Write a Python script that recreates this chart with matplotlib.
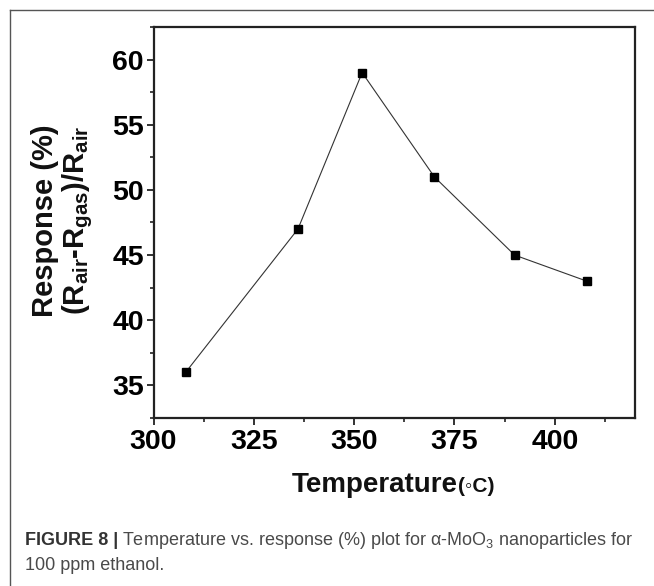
import matplotlib
matplotlib.use("Agg")
import matplotlib.pyplot as plt
from matplotlib.lines import Line2D
from matplotlib.ticker import MultipleLocator

# ---- data ----
temperature = [308, 336, 352, 370, 390, 408]
response = [36, 47, 59, 51, 45, 43]
x_ticks = [300, 325, 350, 375, 400]
y_ticks = [35, 40, 45, 50, 55, 60]

W, H = 654, 586
fig = plt.figure(figsize=(W / 100, H / 100), dpi=100)
fig.patch.set_facecolor("white")

plt.rcParams["mathtext.default"] = "regular"

left, right, top, bottom = 153.5, 635, 27, 418
ax = fig.add_axes([left / W, 1 - bottom / H, (right - left) / W, (bottom - top) / H])

ax.plot(temperature, response, color="#333333", linewidth=0.8,
        marker="s", markersize=5.5, markerfacecolor="black",
        markeredgecolor="black", zorder=3)

ax.set_xlim(300, 420)
ax.set_ylim(32.5, 62.5)
ax.set_xticks(x_ticks)
ax.set_yticks(y_ticks)
ax.xaxis.set_minor_locator(MultipleLocator(12.5))
ax.yaxis.set_minor_locator(MultipleLocator(2.5))

tick_font = dict(family="Liberation Sans", weight="bold", size=20.5)
ax.set_xticklabels([str(v) for v in x_ticks], fontdict=tick_font)
ax.set_yticklabels([str(v) for v in y_ticks], fontdict=tick_font)
ax.tick_params(which="major", direction="out", length=5, width=1.3,
               color="#222222", pad=3)
ax.tick_params(which="minor", direction="out", length=3, width=1.2,
               color="#222222")
ax.tick_params(axis="y", which="major", pad=2)
for s in ax.spines.values():
    s.set_linewidth(1.6)
    s.set_color("#222222")

# y label (two lines)
fig.text(45 / W, 1 - 221 / H, "Response (%)", rotation=90,
         ha="center", va="center", family="Liberation Sans",
         weight="bold", size=21, color="#111111")
fig.text(78 / W, 1 - 220 / H,
         r"(R$\mathregular{_{air}}$-R$\mathregular{_{gas}}$)/R$\mathregular{_{air}}$",
         rotation=90, ha="center", va="center", family="Liberation Sans",
         weight="bold", size=21, color="#111111")

# x label: "Temperature" + smaller "(◦C)"
split_x = 458 / W
base_y = 1 - 492 / H
fig.text(split_x, base_y, "Temperature", ha="right", va="baseline",
         family="Liberation Sans", weight="bold", size=20, color="#111111")
fig.text(split_x, base_y, "(\u25e6C)", ha="left", va="baseline",
         family=["Liberation Sans", "DejaVu Sans"], weight="bold", size=15,
         color="#111111")

# outer frame (left and top edges)
fig.add_artist(Line2D([10 / W, 10 / W], [0, 1 - 10 / H], transform=fig.transFigure,
                      color="#555555", linewidth=1.0))
fig.add_artist(Line2D([10 / W, 1], [1 - 10 / H, 1 - 10 / H], transform=fig.transFigure,
                      color="#555555", linewidth=1.0))

# caption
cap_fam = ["Liberation Sans"]
cap_size = 13
renderer = fig.canvas.get_renderer()
t1 = fig.text(25 / W, 1 - 545 / H, "FIGURE 8 |", ha="left", va="baseline",
              family=cap_fam, weight="bold", size=cap_size, color="#333333")
bb = t1.get_window_extent(renderer)
fig.text(bb.x1 / W + 4 / W, 1 - 545 / H,
         "Temperature vs. response (%) plot for \u03b1-MoO$\\mathregular{_3}$ nanoparticles for",
         ha="left", va="baseline", family=cap_fam, size=cap_size, color="#4a4a4a")
fig.text(25 / W, 1 - 570 / H, "100 ppm ethanol.", ha="left", va="baseline",
         family=cap_fam, size=cap_size, color="#4a4a4a")

fig.savefig("out.png", dpi=100, facecolor="white")
